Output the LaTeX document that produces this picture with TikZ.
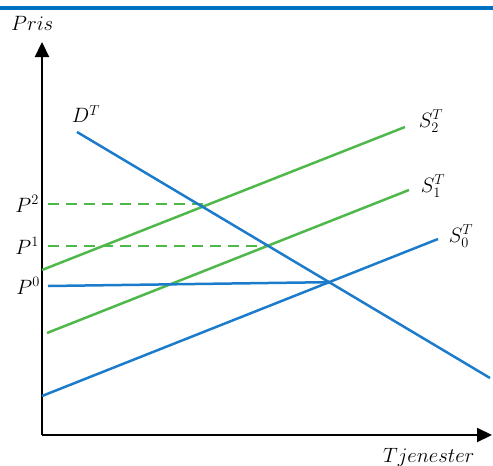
\documentclass[tikz,border=0pt]{standalone}
\usetikzlibrary{arrows.meta}
\definecolor{lblue}{HTML}{1C7CCB}
\definecolor{lgreen}{HTML}{4FB84A}
\definecolor{topblue}{HTML}{0070C0}
\begin{document}
\begin{tikzpicture}[x=1pt,y=-1pt,
  axis/.style={line width=2.2pt,-{Triangle[length=15pt,width=14pt]}},
  curve/.style={line width=2.5pt},
  dashline/.style={line width=2.5pt,dashed,dash pattern=on 11pt off 7pt},
  lab/.style={font=\fontsize{20.74}{23}\selectfont,inner sep=0pt}]
\useasboundingbox (0,0) rectangle (493,466);
\fill[topblue] (0,6) rectangle (493,10);
% axes
\coordinate (O) at (42,435);
\coordinate (ytop) at (42,42);
\coordinate (xend) at (492,435);
\draw[axis] (O) -- (ytop);
\draw[axis] (O) -- (xend);
% curves
\coordinate (d1) at (77,132);
\coordinate (d2) at (490,378);
\coordinate (s0a) at (42,396);
\coordinate (s0b) at (438,239);
\coordinate (s1a) at (47,333);
\coordinate (s1b) at (409,190);
\coordinate (s2a) at (42,270);
\coordinate (s2b) at (405,127);
\coordinate (E0) at (intersection of d1--d2 and s0a--s0b);
\coordinate (E1) at (intersection of d1--d2 and s1a--s1b);
\coordinate (E2) at (intersection of d1--d2 and s2a--s2b);
\coordinate (p0) at (48,286);
\coordinate (p1) at (48,246);
\coordinate (p2) at (48,204);
\draw[curve,lgreen] (s1a) -- (s1b);
\draw[curve,lgreen] (s2a) -- (s2b);
\draw[dashline,lgreen] (p1) -- (p1 -| E1);
\draw[dashline,lgreen] (p2) -- (p2 -| E2);
\draw[curve,lblue] (p0) -- (E0);
\draw[curve,lblue] (s0a) -- (s0b);
\draw[curve,lblue] (d1) -- (d2);
% labels
\node[lab,anchor=base west] (pris) at (11,30) {$Pris$};
\node[lab,anchor=base west] (tien) at (383,462) {$Tjenester$};
\node[lab] (dl) at (86,114) {$D^T$};
\node[lab] (s2l) at (431,121) {$S_2^T$};
\node[lab] (s1l) at (433,186) {$S_1^T$};
\node[lab] (s0l) at (461,236) {$S_0^T$};
\node[lab,anchor=east] (p2l) at (39,204) {$P^2$};
\node[lab,anchor=east] (p1l) at (39,246) {$P^1$};
\node[lab,anchor=east] (p0l) at (40,286) {$P^0$};
\end{tikzpicture}
\end{document}
